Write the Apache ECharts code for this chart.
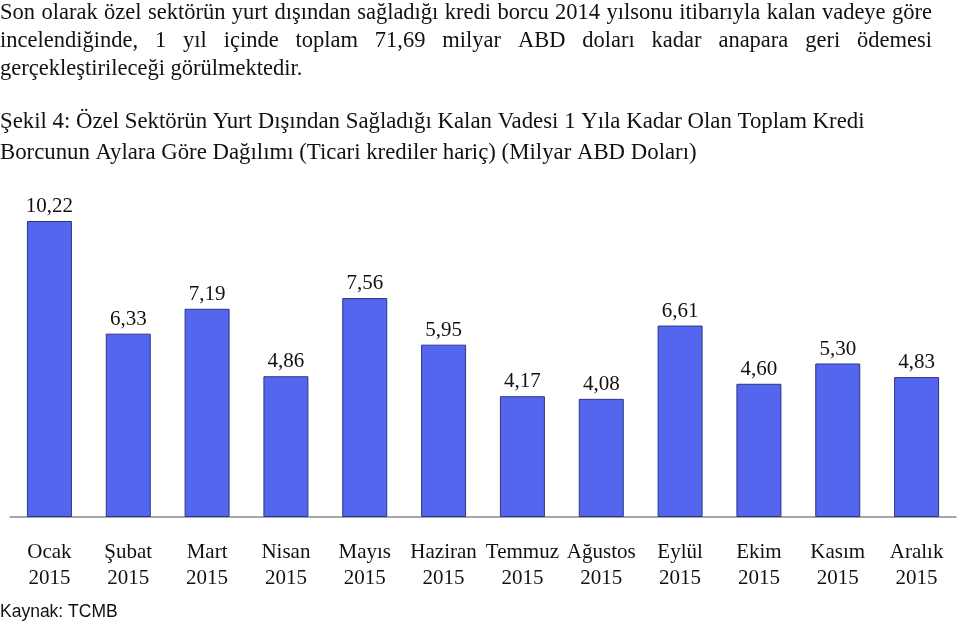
<!DOCTYPE html>
<html>
<head>
<meta charset="utf-8">
<script src="https://cdn.jsdelivr.net/npm/echarts@6/dist/echarts.min.js"></script>
<style>html,body{margin:0;padding:0;background:#fff;}#c{width:960px;height:624px;}</style>
</head>
<body>
<div id="c"></div>
<script>
const months = ['Ocak','Şubat','Mart','Nisan','Mayıs','Haziran','Temmuz','Ağustos','Eylül','Ekim','Kasım','Aralık'];
const year = '2015';
const values = [10.22, 6.33, 7.19, 4.86, 7.56, 5.95, 4.17, 4.08, 6.61, 4.60, 5.30, 4.83];

const introLines = [
  'Son olarak özel sektörün yurt dışından sağladığı kredi borcu 2014 yılsonu itibarıyla kalan vadeye göre',
  'incelendiğinde, 1 yıl içinde toplam 71,69 milyar ABD doları kadar anapara geri ödemesi',
  'gerçekleştirileceği görülmektedir.'
];
const captionLines = [
  'Şekil 4: Özel Sektörün Yurt Dışından Sağladığı Kalan Vadesi 1 Yıla Kadar Olan Toplam Kredi',
  'Borcunun Aylara Göre Dağılımı (Ticari krediler hariç) (Milyar ABD Doları)'
];
const source = 'Kaynak: TCMB';

const serif = '"Liberation Serif", "Times New Roman", serif';
const fontSize = 22.5;
const captionSize = 22.8;
const textColor = '#111';

const cv = document.createElement('canvas').getContext('2d');
cv.font = fontSize + 'px ' + serif;

function justifiedLine(text, y, width) {
  const words = text.split(' ');
  const widths = words.map(w => cv.measureText(w).width);
  const total = widths.reduce((a, b) => a + b, 0);
  const gap = (width - total) / (words.length - 1);
  const els = [];
  let x = 0;
  words.forEach((w, i) => {
    els.push({type: 'text', x: x, y: y,
      style: {text: w, font: fontSize + 'px ' + serif, fill: textColor, textVerticalAlign: 'middle'}});
    x += widths[i] + gap;
  });
  return els;
}
function plainLine(text, y, size, family) {
  return {type: 'text', x: 0, y: y,
    style: {text: text, font: size + 'px ' + family, fill: textColor, textVerticalAlign: 'middle'}};
}

let graphics = [];
graphics = graphics.concat(justifiedLine(introLines[0], 13, 932));
graphics = graphics.concat(justifiedLine(introLines[1], 41, 932));
graphics.push(plainLine(introLines[2], 69, fontSize, serif));
graphics.push(plainLine(captionLines[0], 122, captionSize, serif));
graphics.push(plainLine(captionLines[1], 153, captionSize, serif));
graphics.push(plainLine(source, 612, 17.5, '"Liberation Sans", Arial, sans-serif'));

const chart = echarts.init(document.getElementById('c'), null, {renderer: 'canvas'});
chart.setOption({
  animation: false,
  backgroundColor: '#fff',
  graphic: graphics,
  grid: {left: 10, right: 4, top: 221, bottom: 107, containLabel: false},
  xAxis: {
    type: 'category',
    data: months.map(m => m + '\n' + year),
    axisLine: {lineStyle: {color: '#8a8a8a', width: 1.5}},
    axisTick: {show: false},
    axisLabel: {
      interval: 0, margin: 22, color: textColor,
      fontFamily: serif, fontSize: 21, lineHeight: 26
    }
  },
  yAxis: {
    type: 'value', min: 0, max: 10.22,
    show: false, splitLine: {show: false}
  },
  series: [{
    type: 'bar',
    data: values,
    barWidth: 45,
    itemStyle: {color: '#5566ee', borderColor: '#2b3585', borderWidth: 1},
    label: {
      show: true, position: 'top', distance: 4,
      color: textColor, fontFamily: serif, fontSize: 21,
      formatter: p => p.value.toFixed(2).replace('.', ',')
    }
  }]
});
</script>
</body>
</html>
